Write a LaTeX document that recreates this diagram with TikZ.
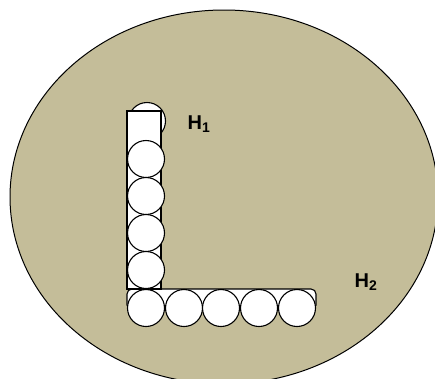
\documentclass[tikz,border=0pt]{standalone}
\usepackage{fontspec}
\setmainfont{Liberation Sans}
\definecolor{tanfill}{RGB}{196,189,153}
\begin{document}
\begin{tikzpicture}[x=1pt,y=-1pt,
  ball/.style={circle,draw,fill=white,line width=1.1pt,minimum size=37pt,inner sep=0pt},
  bar/.style={draw,fill=white,line width=1.1pt,inner sep=0pt},
  lbl/.style={font=\fontsize{20}{23}\selectfont\bfseries,inner sep=0pt}]
\useasboundingbox (0,0) rectangle (435,378);
\begin{scope}
\clip (0,0) rectangle (435,378);
\draw[fill=tanfill,line width=1pt] (224,197) ellipse [x radius=214, y radius=187];
\end{scope}
\node[bar,rounded corners=5pt,minimum width=189pt,minimum height=21pt] (hbar) at (221.5,299.5) {};
\node[ball] (t0) at (147,121) {};
\node[bar,minimum width=34pt,minimum height=178pt] (vbar) at (144,200) {};
\node[ball] (v1) at (146,159) {};
\node[ball] (v2) at (146,196) {};
\node[ball] (v3) at (146,233) {};
\node[ball] (v4) at (146,270) {};
\node[ball] (b1) at (146,308) {};
\node[ball] (b2) at (184,308) {};
\node[ball] (b3) at (221,308) {};
\node[ball] (b4) at (259,308) {};
\node[ball] (b5) at (297,308) {};
\node[lbl] (h1) at (199,124) {H\textsubscript{1}};
\node[lbl] (h2) at (366,282) {H\textsubscript{2}};
\end{tikzpicture}
\end{document}
